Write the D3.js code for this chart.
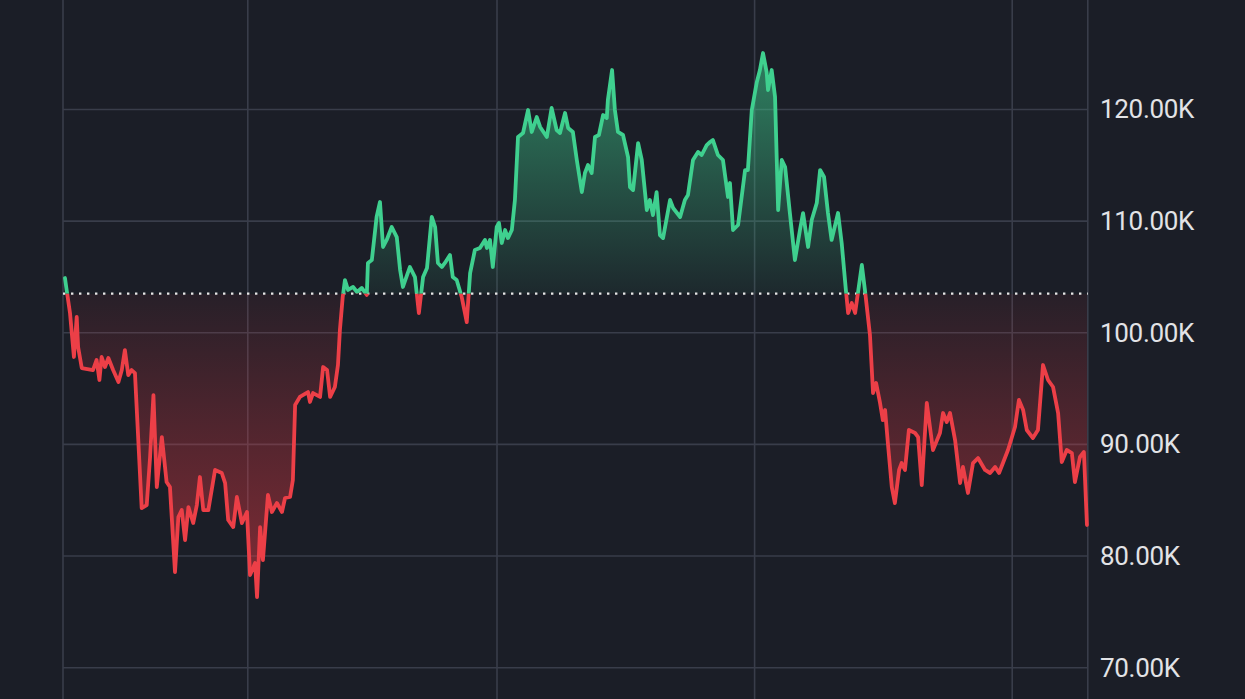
<!DOCTYPE html>
<html>
<head>
<meta charset="utf-8">
<script src="https://cdn.jsdelivr.net/npm/d3@7"></script>
<style>
  html, body { margin: 0; padding: 0; background: #1b1e27; }
  svg { display: block; }
</style>
</head>
<body>
<svg id="chart" width="1245" height="699"></svg>
<script>
// ---- data (day index, price in thousands USD) ----
const days = [0.7,1.3,2.5,3.9,4.9,5.4,6.7,10.7,12.0,13.0,13.8,15.0,16.2,17.9,19.8,21.0,22.1,23.3,24.5,25.7,
28.1,29.9,31.1,32.3,33.5,35.3,37.0,38.2,40.0,41.2,42.4,43.6,44.8,46.5,47.8,48.9,50.1,51.9,54.3,56.7,
57.9,59.0,60.8,62.1,63.9,65.7,66.8,68.6,69.3,70.4,71.4,73.2,74.6,76.4,78.2,79.3,81.1,82.1,82.9,84.6,
87.5,88.2,89.3,91.8,92.9,94.3,95.4,97.1,98.2,98.9,99.9,100.7,101.8,103.6,105.0,106.7,108.5,108.9,110.3,112.0,
113.2,114.3,115.6,117.4,119.2,120.4,121.4,123.9,125.7,127.1,128.6,130.0,131.7,132.9,133.9,135.3,136.4,138.2,139.2,140.6,
142.4,144.2,145.4,147.1,148.9,150.7,151.4,152.5,153.5,154.9,155.7,156.7,157.9,158.9,160.3,161.4,162.5,164.3,166.1,167.4,
169.2,170.4,172.8,174.5,176.3,177.5,179.3,180.4,182.1,183.5,185.3,186.4,187.5,188.8,190.0,191.4,192.9,194.2,194.6,196.1,
197.1,198.2,200.0,201.8,202.5,203.6,205.4,206.7,208.5,209.6,210.7,212.0,213.2,214.3,216.8,217.9,220.4,222.1,223.2,225.0,
226.8,228.1,229.9,231.1,232.1,233.9,235.7,237.5,238.2,239.3,241.1,243.6,244.6,246.0,247.8,248.9,250.0,251.3,251.8,253.1,
254.3,255.4,256.7,257.9,259.6,261.4,263.2,264.3,266.1,267.4,269.2,270.4,271.8,273.2,274.5,276.8,278.1,279.6,280.4,281.7,
282.9,283.9,285.3,286.4,288.2,289.3,290.4,291.8,292.8,293.6,294.6,296.0,297.1,298.6,299.5,300.7,302.1,304.3,305.4,306.7,
308.5,310.7,313.2,314.3,315.6,316.8,318.6,320.4,321.4,323.2,325.0,326.8,329.3,331.1,332.9,334.3,335.7,337.5,340.0,341.4,
342.9,344.2,346.4,348.2,350.0,351.8,353.6,355.4,356.7,358.5,360.3,361.4,363.2,364.6,365.7];

const prices = [104.90,103.83,101.77,97.83,101.41,98.72,96.84,96.66,97.56,95.77,97.83,96.93,97.74,96.66,95.59,96.66,98.45,96.21,96.66,96.39,
84.30,84.57,88.87,94.42,86.18,90.66,86.63,86.18,78.57,83.50,84.12,81.44,84.39,82.96,84.57,87.08,84.12,84.12,87.71,87.44,
86.54,83.23,82.60,85.29,82.96,83.95,78.30,79.38,76.33,82.60,79.65,85.47,83.95,84.75,83.95,85.20,85.29,86.81,93.53,94.25,
94.69,93.80,94.60,94.25,96.93,96.66,94.25,95.14,97.11,100.25,103.20,104.72,103.83,104.10,103.65,104.01,103.38,106.25,106.51,110.37,
111.71,107.68,108.31,109.47,108.57,105.62,104.10,105.89,104.99,101.77,104.99,105.80,110.37,109.47,106.25,105.89,106.25,106.96,104.99,104.72,
103.20,100.96,105.35,107.41,107.59,108.31,107.59,108.31,105.89,109.47,109.83,108.04,109.20,108.48,109.20,111.89,117.53,117.89,119.95,117.98,
119.32,118.43,117.53,120.13,118.16,117.89,119.68,118.34,117.98,115.47,112.60,114.31,115.02,114.31,117.53,117.71,119.50,119.23,120.84,123.53,
119.95,117.98,117.71,115.74,113.05,112.78,116.99,115.47,110.99,111.89,110.54,112.60,108.75,108.48,111.89,111.17,110.37,111.89,112.34,115.47,
116.19,115.92,116.81,117.08,117.26,115.92,115.47,112.16,113.41,109.20,109.65,114.57,114.57,119.95,122.46,123.53,125.05,123.35,121.74,123.53,
121.11,110.99,115.47,114.84,110.72,106.51,109.20,110.72,107.68,110.10,111.62,114.57,113.95,110.72,108.31,110.72,108.04,103.83,101.77,102.66,
101.77,103.56,106.07,103.83,99.80,94.60,95.50,93.71,92.18,93.08,90.12,86.18,84.75,87.71,88.33,87.71,91.29,91.02,90.66,86.36,
93.71,89.50,91.02,92.81,92.01,92.81,90.39,86.54,87.98,85.65,88.33,88.78,87.71,87.44,87.98,87.44,88.33,89.50,91.56,93.98,
93.08,91.29,90.57,91.29,97.11,95.77,95.14,92.81,88.42,89.50,89.23,86.63,88.87,89.32,82.78];

const baselinePrice = 103.5;
const yTicks = [70, 80, 90, 100, 110, 120];
const xGridDays = [0, 66, 155, 247, 339, 366];

// ---- chart ----
const W = 1245, H = 699;
const svg = d3.select("#chart");
const data = days.map((d, i) => ({ d, p: prices[i] }));

const x = d3.scaleLinear().domain([0, 366]).range([63, 1087.8]);
const y = d3.scaleLinear().domain([67.2, 129.8]).range([H, 0]);

svg.append("rect").attr("width", W).attr("height", H).attr("fill", "#1b1e27");

const defs = svg.append("defs");
const gUp = defs.append("linearGradient").attr("id", "gUp")
  .attr("gradientUnits", "userSpaceOnUse")
  .attr("x1", 0).attr("x2", 0).attr("y1", y(122)).attr("y2", y(baselinePrice));
gUp.append("stop").attr("offset", 0).attr("stop-color", "#3ecf8e").attr("stop-opacity", 0.5);
gUp.append("stop").attr("offset", 1).attr("stop-color", "#3ecf8e").attr("stop-opacity", 0.06);

const gDn = defs.append("linearGradient").attr("id", "gDn")
  .attr("gradientUnits", "userSpaceOnUse")
  .attr("x1", 0).attr("x2", 0).attr("y1", y(baselinePrice)).attr("y2", y(78));
gDn.append("stop").attr("offset", 0).attr("stop-color", "#ea3943").attr("stop-opacity", 0.06);
gDn.append("stop").attr("offset", 1).attr("stop-color", "#ea3943").attr("stop-opacity", 0.48);

const by = y(baselinePrice);
defs.append("clipPath").attr("id", "clipUp").append("rect")
  .attr("x", 0).attr("y", 0).attr("width", W).attr("height", by);
defs.append("clipPath").attr("id", "clipDn").append("rect")
  .attr("x", 0).attr("y", by).attr("width", W).attr("height", H - by);

// grid
const grid = svg.append("g");
grid.selectAll("line.h").data(yTicks).join("line")
  .attr("x1", x(0)).attr("x2", x(366))
  .attr("y1", d => y(d)).attr("y2", d => y(d))
  .attr("stroke", "#393d4a").attr("stroke-width", 1.6);
grid.selectAll("line.v").data(xGridDays).join("line")
  .attr("x1", d => x(d)).attr("x2", d => x(d))
  .attr("y1", 0).attr("y2", H)
  .attr("stroke", "#393d4a").attr("stroke-width", 1.6);

// areas
const area = d3.area().x(d => x(d.d)).y0(by).y1(d => y(d.p));
const line = d3.line().x(d => x(d.d)).y(d => y(d.p));

svg.append("path").datum(data).attr("d", area)
  .attr("fill", "url(#gUp)").attr("clip-path", "url(#clipUp)");
svg.append("path").datum(data).attr("d", area)
  .attr("fill", "url(#gDn)").attr("clip-path", "url(#clipDn)");

// baseline dotted
svg.append("line")
  .attr("x1", x(0)).attr("x2", x(366))
  .attr("y1", by).attr("y2", by)
  .attr("stroke", "#e6e6e6").attr("stroke-width", 2.4)
  .attr("stroke-dasharray", "2.4 5.6");

// lines
svg.append("path").datum(data).attr("d", line)
  .attr("fill", "none").attr("stroke", "#3fd08f").attr("stroke-width", 3.8)
  .attr("stroke-linejoin", "round").attr("stroke-linecap", "round")
  .attr("clip-path", "url(#clipUp)");
svg.append("path").datum(data).attr("d", line)
  .attr("fill", "none").attr("stroke", "#ec3f47").attr("stroke-width", 3.8)
  .attr("stroke-linejoin", "round").attr("stroke-linecap", "round")
  .attr("clip-path", "url(#clipDn)");

// y labels
svg.append("g").selectAll("text").data(yTicks).join("text")
  .attr("x", 1100).attr("y", d => y(d))
  .attr("dominant-baseline", "central")
  .attr("fill", "#e2e3e6")
  .attr("font-family", "Roboto, 'Open Sans', sans-serif")
  .attr("font-size", 26)
  .attr("letter-spacing", "-0.3")
  .text(d => d.toFixed(2) + "K");
</script>
</body>
</html>
